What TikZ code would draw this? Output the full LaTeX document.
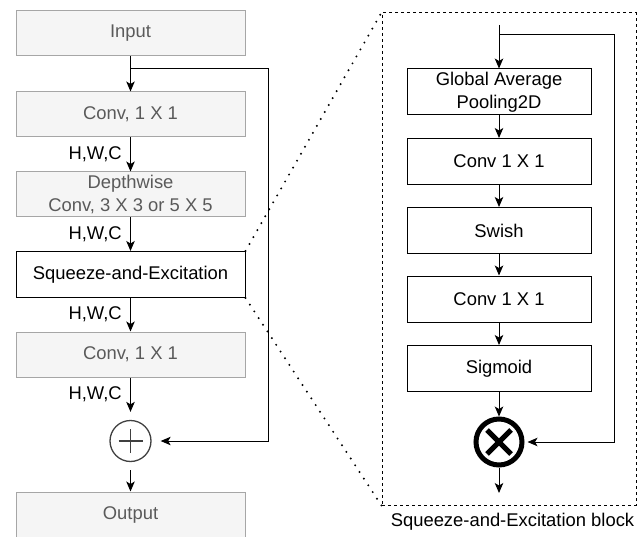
\documentclass[tikz,border=0pt]{standalone}
\usepackage{fontspec}
\setmainfont{Liberation Sans}
\usetikzlibrary{shapes,arrows.meta}
\definecolor{boxGray}{HTML}{F5F5F5}
\definecolor{lineGray}{HTML}{A6A6A6}
\definecolor{textGray}{HTML}{5A5A5A}
\tikzstyle{lightStage} = [rectangle, draw=lineGray, fill=boxGray, text=textGray,
    minimum width=229pt, minimum height=45pt, align=center, inner sep=0pt]
\tikzstyle{mainStage} = [rectangle, draw, fill=white,
    minimum width=229pt, minimum height=46pt, inner sep=0pt]
\tikzstyle{seStage} = [rectangle, draw, minimum width=184pt, minimum height=46pt,
    align=center, inner sep=0pt]
\tikzstyle{sumNode} = [circle, draw=black!75, line width=1.3pt, minimum size=41pt, inner sep=0pt,
    path picture={\draw[black!75, line width=1.3pt] (path picture bounding box.center) +(-12,0) -- +(12,0)
        (path picture bounding box.center) +(0,-12) -- +(0,12);}]
\tikzstyle{mulNode} = [circle, draw, line width=5pt, minimum size=46pt, inner sep=0pt,
    path picture={\draw[line width=5pt] (path picture bounding box.center) +(-12,-12) -- +(12,12)
        (path picture bounding box.center) +(-12,12) -- +(12,-12);}]
\tikzstyle{seFrame} = [rectangle, draw, dashed, minimum width=254pt, minimum height=492pt]
\tikzstyle{flow} = [draw, -{Stealth[length=10pt, width=8.5pt, inset=2.5pt]}]
\tikzstyle{dimLabel} = [left, xshift=-5pt]
\tikzstyle{zoomLine} = [line width=2.2pt, line cap=round, dash pattern=on 0pt off 8pt]

\begin{document}
\begin{tikzpicture}[x=1pt, y=1pt, node distance=80pt, line width=1pt,
    font=\fontsize{18.4}{23}\selectfont]
    \useasboundingbox (0,0) rectangle (642,-537);
    % Place nodes
    \node[lightStage] (input) at (130.5,-33.5) {Input};
    \node[lightStage, below of=input, node distance=81pt] (convA) {Conv, 1 X 1};
    \node[lightStage, below of=convA] (depthwise) {Depthwise\\Conv, 3 X 3 or 5 X 5};
    \node[mainStage, below of=depthwise] (se) {Squeeze-and-Excitation};
    \node[lightStage, below of=se] (convB) {Conv, 1 X 1};
    \node[sumNode, below of=convB, node distance=86.5pt] (plus) {};
    \node[lightStage, below of=plus, node distance=73.5pt] (output) {Output};
    \coordinate[below of=input, node distance=35.5pt] (split);
    \coordinate (skip) at (268,-69);

    % SE block
    \node[seFrame] (seBox) at (509,-259) {};
    \node[below of=seBox, node distance=263pt, xshift=3.5pt] (seCaption) {Squeeze-and-Excitation block};
    \node[seStage] (gap) at (499,-92) {Global Average\\Pooling2D};
    \node[seStage, below of=gap, node distance=69.5pt] (seConvA) {Conv 1 X 1};
    \node[seStage, below of=seConvA, node distance=69pt] (swish) {Swish};
    \node[seStage, below of=swish, node distance=68.5pt] (seConvB) {Conv 1 X 1};
    \node[seStage, below of=seConvB, node distance=69.5pt] (sigmoid) {Sigmoid};
    \node[mulNode, below of=sigmoid, node distance=73.5pt] (mul) {};
    \coordinate (seIn) at (499,-25);
    \coordinate[below of=seIn, node distance=10pt] (seSplit);
    \coordinate (seSkip) at (614,-35);
    \coordinate (seOut) at (499,-493);

    % Draw edges
    \path[flow] (input) -- (convA);
    \path[flow] (convA) -- node[dimLabel] {H,W,C} (depthwise);
    \path[flow] (depthwise) -- node[dimLabel] {H,W,C} (se);
    \path[flow] (se) -- node[dimLabel] {H,W,C} (convB);
    \path[flow, shorten >=8pt] (convB) -- node[dimLabel, pos=0.4] {H,W,C} (plus);
    \path[flow, shorten <=8pt] (plus) -- (output);
    \path[flow, shorten >=9pt] (split) -- (skip) |- (plus);

    \path[flow] (seIn) -- (gap);
    \path[flow] (gap) -- (seConvA);
    \path[flow] (seConvA) -- (swish);
    \path[flow] (swish) -- (seConvB);
    \path[flow] (seConvB) -- (sigmoid);
    \path[flow] (sigmoid) -- (mul);
    \path[flow, shorten >=3pt] (seSplit) -- (seSkip) |- (mul);
    \path[flow] (mul) -- (seOut);

    \draw[zoomLine] (se.north east) -- (seBox.north west);
    \draw[zoomLine] (se.south east) -- (seBox.south west);
\end{tikzpicture}
\end{document}
